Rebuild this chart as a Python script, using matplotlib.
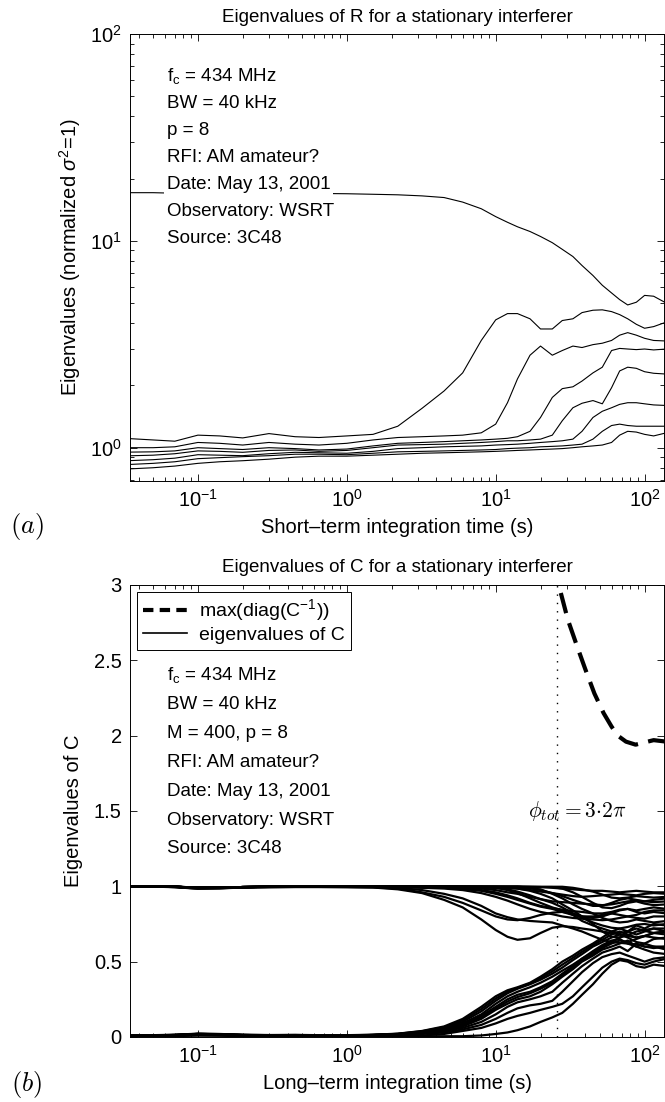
import matplotlib
matplotlib.use("Agg")
import matplotlib.pyplot as plt
from matplotlib.lines import Line2D

plt.rcParams['font.family'] = ['Liberation Sans', 'DejaVu Sans']
plt.rcParams['mathtext.fontset'] = 'custom'
plt.rcParams['mathtext.rm'] = 'Liberation Sans'
plt.rcParams['mathtext.it'] = 'Liberation Sans:italic'
plt.rcParams['mathtext.bf'] = 'Liberation Sans:bold'

# integration times (s), shared by both panels
t = [0.035, 0.05, 0.07, 0.1, 0.14, 0.2, 0.3, 0.45, 0.65, 1, 1.5, 2.2, 3.2, 4.5,
     6, 8, 10, 12, 14, 17, 20, 24, 28, 33, 38, 45, 52, 60, 68, 77, 88, 100,
     115, 140]

# panel (a): eigenvalues of R
r1 = [17.1, 17.1, 17.0, 17.0, 17.0, 17.0, 17.0, 16.95, 16.95, 16.9, 16.8, 16.7,
      16.5, 16.2, 15.4, 14.3, 13.1, 12.3, 11.7, 11.1, 10.5, 9.8, 9.1, 8.4,
      7.6, 6.8, 6.1, 5.6, 5.2, 4.9, 5.05, 5.45, 5.4, 5.0]
r2 = [1.106, 1.09, 1.075, 1.15, 1.14, 1.115, 1.17, 1.13, 1.12, 1.14, 1.16,
      1.27, 1.55, 1.88, 2.3, 3.3, 4.15, 4.45, 4.45, 4.2, 3.75, 3.75, 4.12, 4.2,
      4.5, 4.62, 4.64, 4.55, 4.4, 4.2, 3.95, 3.78, 3.85, 4.05]
r3 = [1.0, 1.0, 1.01, 1.06, 1.05, 1.03, 1.06, 1.04, 1.03, 1.05, 1.09, 1.12,
      1.13, 1.14, 1.15, 1.18, 1.3, 1.65, 2.15, 2.8, 3.1, 2.8, 2.95, 3.1, 3.05,
      3.15, 3.2, 3.3, 3.5, 3.6, 3.5, 3.38, 3.3, 3.28]
r4 = [0.952, 0.955, 0.965, 1.0, 0.99, 0.98, 1.0, 0.99, 0.975, 0.985, 1.02,
      1.05, 1.06, 1.07, 1.08, 1.09, 1.1, 1.11, 1.13, 1.2, 1.4, 1.75, 1.93, 1.97,
      2.1, 2.3, 2.45, 2.95, 3.02, 3.0, 2.98, 3.0, 2.97, 3.0]
r5 = [0.914, 0.92, 0.935, 0.965, 0.96, 0.95, 0.97, 0.975, 0.96, 0.97, 1.0,
      1.03, 1.035, 1.04, 1.05, 1.06, 1.07, 1.08, 1.08, 1.09, 1.1, 1.15, 1.35,
      1.56, 1.64, 1.69, 1.63, 1.95, 2.35, 2.45, 2.42, 2.33, 2.29, 2.27]
r6 = [0.866, 0.875, 0.89, 0.925, 0.92, 0.915, 0.935, 0.95, 0.945, 0.94, 0.96,
      0.99, 1.0, 1.01, 1.015, 1.02, 1.03, 1.035, 1.04, 1.05, 1.06, 1.07, 1.08,
      1.1, 1.2, 1.4, 1.5, 1.56, 1.62, 1.65, 1.65, 1.63, 1.61, 1.6]
r7 = [0.83, 0.84, 0.855, 0.885, 0.895, 0.905, 0.915, 0.93, 0.93, 0.925, 0.94,
      0.955, 0.96, 0.965, 0.97, 0.975, 0.98, 0.99, 0.995, 1.0, 1.01, 1.015,
      1.02, 1.03, 1.04, 1.1, 1.2, 1.28, 1.3, 1.28, 1.27, 1.27, 1.27, 1.27]
r8 = [0.79, 0.8, 0.815, 0.84, 0.855, 0.865, 0.88, 0.9, 0.91, 0.91, 0.92, 0.93,
      0.94, 0.945, 0.95, 0.955, 0.96, 0.965, 0.97, 0.975, 0.98, 0.985, 0.99,
      1.0, 1.01, 1.02, 1.03, 1.06, 1.15, 1.2, 1.19, 1.16, 1.14, 1.18]
eig_R = [r1, r2, r3, r4, r5, r6, r7, r8]

# panel (b): eigenvalues of C, upper group (start near 1)
u1 = [1.0, 1.0, 0.998, 0.99, 0.99, 0.995, 0.997, 0.998, 0.998, 0.998, 0.999,
      0.999, 0.999, 0.999, 0.999, 0.999, 0.999, 0.998, 0.998, 0.997, 0.995,
      0.99, 0.985, 0.98, 0.975, 0.97, 0.97, 0.965, 0.96, 0.965, 0.97, 0.965,
      0.96, 0.96]
u2 = [1.0, 1.0, 0.997, 0.99, 0.99, 0.995, 0.997, 0.998, 0.998, 0.998, 0.999,
      0.999, 0.998, 0.997, 0.996, 0.995, 0.993, 0.99, 0.985, 0.975, 0.965,
      0.955, 0.945, 0.935, 0.93, 0.935, 0.94, 0.945, 0.95, 0.945, 0.94, 0.95,
      0.955, 0.95]
u3 = [1.0, 1.0, 0.997, 0.99, 0.99, 0.995, 0.997, 0.997, 0.997, 0.998, 0.998,
      0.998, 0.995, 0.993, 0.99, 0.985, 0.975, 0.96, 0.95, 0.93, 0.915, 0.9,
      0.895, 0.89, 0.885, 0.88, 0.875, 0.88, 0.89, 0.9, 0.905, 0.9, 0.895, 0.9]
u4 = [1.0, 1.0, 0.997, 0.99, 0.99, 0.995, 0.997, 0.997, 0.997, 0.998, 0.998,
      0.997, 0.993, 0.99, 0.985, 0.975, 0.96, 0.94, 0.92, 0.89, 0.87, 0.855,
      0.845, 0.835, 0.83, 0.82, 0.82, 0.83, 0.845, 0.85, 0.84, 0.85, 0.86, 0.85]
u5 = [1.0, 1.0, 0.997, 0.99, 0.99, 0.994, 0.996, 0.997, 0.997, 0.997, 0.997,
      0.995, 0.99, 0.985, 0.975, 0.955, 0.93, 0.905, 0.88, 0.85, 0.83, 0.815,
      0.8, 0.79, 0.785, 0.78, 0.775, 0.78, 0.79, 0.8, 0.79, 0.785, 0.8, 0.8]
u6 = [1.0, 1.0, 0.997, 0.99, 0.99, 0.995, 0.997, 0.998, 0.998, 0.998, 0.998,
      0.998, 0.997, 0.996, 0.995, 0.993, 0.99, 0.98, 0.965, 0.94, 0.915, 0.89,
      0.86, 0.82, 0.79, 0.76, 0.74, 0.725, 0.72, 0.73, 0.745, 0.75, 0.74, 0.75]
u7 = [1.0, 0.999, 0.995, 0.985, 0.987, 0.993, 0.995, 0.996, 0.996, 0.995,
      0.993, 0.985, 0.96, 0.93, 0.89, 0.84, 0.8, 0.78, 0.775, 0.79, 0.81,
      0.825, 0.83, 0.82, 0.8, 0.79, 0.8, 0.82, 0.84, 0.85, 0.83, 0.82, 0.83,
      0.82]
u8 = [0.999, 0.998, 0.994, 0.984, 0.986, 0.992, 0.994, 0.995, 0.995, 0.994,
      0.992, 0.98, 0.955, 0.91, 0.86, 0.78, 0.71, 0.665, 0.645, 0.655, 0.69,
      0.725, 0.735, 0.73, 0.72, 0.71, 0.7, 0.69, 0.68, 0.67, 0.66, 0.67, 0.69,
      0.7]
u9 = [1.0, 0.999, 0.995, 0.986, 0.988, 0.993, 0.995, 0.996, 0.996, 0.996,
      0.995, 0.99, 0.975, 0.95, 0.92, 0.87, 0.82, 0.795, 0.78, 0.77, 0.765,
      0.76, 0.74, 0.72, 0.7, 0.67, 0.645, 0.63, 0.625, 0.62, 0.615, 0.6, 0.59,
      0.6]
u10 = [1.0, 1.0, 0.997, 0.99, 0.99, 0.995, 0.997, 0.998, 0.998, 0.998, 0.998,
       0.998, 0.997, 0.996, 0.995, 0.994, 0.992, 0.99, 0.985, 0.97, 0.95, 0.92,
       0.88, 0.84, 0.8, 0.75, 0.7, 0.665, 0.66, 0.675, 0.7, 0.71, 0.72, 0.72]
u11 = [1.0, 1.0, 0.998, 0.991, 0.991, 0.995, 0.997, 0.998, 0.998, 0.998,
       0.998, 0.998, 0.998, 0.997, 0.997, 0.997, 0.996, 0.996, 0.996, 0.995,
       0.995, 0.995, 0.985, 0.96, 0.93, 0.89, 0.86, 0.855, 0.87, 0.89, 0.9,
       0.885, 0.875, 0.88]
u12 = [1.0, 1.0, 0.998, 0.991, 0.991, 0.995, 0.997, 0.998, 0.998, 0.998,
       0.998, 0.998, 0.998, 0.998, 0.998, 0.998, 0.998, 0.998, 0.998, 0.997,
       0.997, 0.997, 0.997, 0.99, 0.98, 0.965, 0.945, 0.925, 0.92, 0.925,
       0.935, 0.93, 0.925, 0.93]
u13 = [1.0, 1.0, 0.997, 0.99, 0.99, 0.995, 0.997, 0.998, 0.998, 0.998, 0.998,
       0.998, 0.998, 0.997, 0.997, 0.996, 0.995, 0.993, 0.99, 0.985, 0.98,
       0.95, 0.92, 0.88, 0.85, 0.82, 0.79, 0.77, 0.76, 0.765, 0.78, 0.77, 0.76,
       0.77]
u14 = [1.0, 1.0, 0.997, 0.99, 0.99, 0.995, 0.997, 0.998, 0.998, 0.998, 0.998,
       0.998, 0.997, 0.997, 0.996, 0.995, 0.99, 0.975, 0.955, 0.92, 0.89, 0.86,
       0.84, 0.81, 0.77, 0.74, 0.72, 0.7, 0.69, 0.7, 0.72, 0.705, 0.69, 0.7]
u15 = [1.0, 1.0, 0.997, 0.99, 0.99, 0.995, 0.997, 0.998, 0.998, 0.998, 0.998,
       0.997, 0.994, 0.99, 0.982, 0.97, 0.95, 0.93, 0.91, 0.885, 0.865, 0.85,
       0.83, 0.81, 0.8, 0.8, 0.81, 0.82, 0.81, 0.8, 0.81, 0.83, 0.84, 0.84]
u16 = [1.0, 1.0, 0.997, 0.99, 0.99, 0.995, 0.997, 0.998, 0.998, 0.998, 0.998,
       0.998, 0.998, 0.998, 0.998, 0.998, 0.998, 0.998, 0.998, 0.99, 0.975,
       0.955, 0.935, 0.91, 0.89, 0.87, 0.87, 0.89, 0.91, 0.92, 0.91, 0.9,
       0.91, 0.92]

# lower group (start near 0)
l1 = [0.01, 0.012, 0.015, 0.022, 0.02, 0.015, 0.013, 0.014, 0.012, 0.012,
      0.015, 0.022, 0.04, 0.07, 0.12, 0.2, 0.27, 0.31, 0.33, 0.36, 0.4, 0.45,
      0.5, 0.54, 0.58, 0.62, 0.66, 0.7, 0.72, 0.7, 0.68, 0.7, 0.72, 0.7]
l2 = [0.009, 0.011, 0.014, 0.021, 0.019, 0.014, 0.012, 0.013, 0.011, 0.011,
      0.014, 0.02, 0.035, 0.06, 0.1, 0.17, 0.24, 0.29, 0.32, 0.35, 0.38, 0.42,
      0.46, 0.51, 0.55, 0.6, 0.63, 0.66, 0.68, 0.66, 0.63, 0.62, 0.65, 0.66]
l3 = [0.008, 0.01, 0.013, 0.02, 0.018, 0.013, 0.011, 0.012, 0.01, 0.01, 0.013,
      0.019, 0.03, 0.05, 0.09, 0.15, 0.22, 0.27, 0.3, 0.33, 0.36, 0.4, 0.44,
      0.48, 0.52, 0.57, 0.61, 0.64, 0.65, 0.62, 0.6, 0.62, 0.6, 0.58]
l4 = [0.008, 0.01, 0.012, 0.019, 0.017, 0.012, 0.011, 0.012, 0.01, 0.01,
      0.013, 0.018, 0.03, 0.05, 0.08, 0.14, 0.2, 0.25, 0.28, 0.3, 0.33, 0.37,
      0.42, 0.47, 0.52, 0.56, 0.6, 0.63, 0.66, 0.7, 0.74, 0.72, 0.75, 0.74]
l5 = [0.007, 0.009, 0.012, 0.018, 0.016, 0.012, 0.01, 0.011, 0.01, 0.01,
      0.012, 0.017, 0.025, 0.04, 0.07, 0.12, 0.18, 0.22, 0.25, 0.27, 0.3, 0.35,
      0.4, 0.45, 0.5, 0.54, 0.58, 0.6, 0.62, 0.64, 0.6, 0.58, 0.56, 0.55]
l6 = [0.007, 0.009, 0.011, 0.017, 0.015, 0.011, 0.01, 0.011, 0.009, 0.009,
      0.011, 0.016, 0.025, 0.04, 0.06, 0.1, 0.15, 0.2, 0.23, 0.25, 0.27, 0.3,
      0.36, 0.42, 0.47, 0.52, 0.56, 0.58, 0.6, 0.57, 0.62, 0.6, 0.6, 0.6]
l7 = [0.006, 0.008, 0.01, 0.016, 0.014, 0.01, 0.009, 0.01, 0.008, 0.008,
      0.01, 0.014, 0.02, 0.03, 0.05, 0.08, 0.12, 0.16, 0.19, 0.21, 0.22, 0.24,
      0.3, 0.37, 0.43, 0.49, 0.53, 0.55, 0.56, 0.54, 0.52, 0.5, 0.52, 0.53]
l8 = [0.005, 0.006, 0.008, 0.012, 0.011, 0.008, 0.007, 0.008, 0.007, 0.007,
      0.008, 0.009, 0.01, 0.02, 0.04, 0.06, 0.09, 0.12, 0.14, 0.16, 0.18, 0.2,
      0.22, 0.27, 0.33, 0.4, 0.46, 0.5, 0.52, 0.51, 0.49, 0.48, 0.5, 0.52]
l9 = [0.004, 0.005, 0.006, 0.009, 0.008, 0.006, 0.005, 0.006, 0.005, 0.005,
      0.005, 0.005, 0.005, 0.005, 0.005, 0.01, 0.02, 0.03, 0.045, 0.07, 0.1,
      0.13, 0.16, 0.22, 0.28, 0.35, 0.42, 0.48, 0.51, 0.5, 0.47, 0.46, 0.48,
      0.47]
l10 = [0.008, 0.01, 0.013, 0.02, 0.018, 0.013, 0.011, 0.012, 0.01, 0.01,
       0.013, 0.021, 0.038, 0.065, 0.11, 0.185, 0.255, 0.3, 0.325, 0.355,
       0.39, 0.435, 0.48, 0.525, 0.565, 0.61, 0.645, 0.68, 0.7, 0.68, 0.66,
       0.67, 0.69, 0.68]
l11 = [0.008, 0.01, 0.013, 0.02, 0.018, 0.013, 0.011, 0.012, 0.01, 0.01,
       0.013, 0.018, 0.028, 0.045, 0.075, 0.13, 0.19, 0.235, 0.265, 0.29,
       0.32, 0.36, 0.41, 0.46, 0.51, 0.55, 0.59, 0.62, 0.64, 0.63, 0.65,
       0.67, 0.66, 0.65]
eig_C = [u1, u2, u3, u4, u5, u6, u7, u8, u9, u10, u11, u12, u13, u14, u15,
         u16, l1, l2, l3, l4, l5, l6, l7, l8, l9, l10, l11]

# max(diag(C^-1))
t_diag = [25, 26.5, 30.5, 35, 40, 46, 53, 60, 66, 75, 87, 100, 115, 140]
max_diag = [3.15, 3.0, 2.77, 2.6, 2.44, 2.28, 2.15, 2.06, 2.0, 1.96, 1.94,
            1.955, 1.97, 1.96]
t_phase = 26.0

info_a = [r'f$_{\rm c}$ = 434 MHz', 'BW = 40 kHz', 'p = 8', 'RFI: AM amateur?',
          'Date: May 13, 2001', 'Observatory: WSRT', 'Source: 3C48']
info_b = [r'f$_{\rm c}$ = 434 MHz', 'BW = 40 kHz', 'M = 400, p = 8',
          'RFI: AM amateur?', 'Date: May 13, 2001', 'Observatory: WSRT',
          'Source: 3C48']

fs = 13.5
fig = plt.figure(figsize=(6.65, 11.02), dpi=100)
ax1 = fig.add_axes([0.1955, 0.5635, 0.803, 0.4056])
ax2 = fig.add_axes([0.1955, 0.0590, 0.803, 0.4102])

for ax in (ax1, ax2):
    ax.set_xscale('log')
    ax.set_xlim(0.035, 135)
    ax.tick_params(which='both', direction='in', top=True, right=True,
                   labelsize=fs + 1, width=0.6)
    ax.tick_params(which='major', length=5, pad=6)
    ax.tick_params(which='minor', length=3)
    for s in ax.spines.values():
        s.set_linewidth(0.7)

# (a)
for y in eig_R:
    ax1.plot(t, y, color='black', lw=0.8)
ax1.set_yscale('log')
ax1.set_ylim(0.69, 100)
ax1.set_title('Eigenvalues of R for a stationary interferer', fontsize=fs, pad=9)
ax1.set_xlabel('Short\u2013term integration time (s)', fontsize=fs + 1, labelpad=5)
ax1.set_ylabel(r'Eigenvalues (normalized $\sigma^2$=1)', fontsize=fs + 1)
ax1.yaxis.set_label_coords(-0.088, 0.5)
for i, s in enumerate(info_a):
    ax1.text(0.069, 0.906 - i * 0.0606, s, transform=ax1.transAxes,
             fontsize=fs, va='center', ha='left',
             bbox=dict(facecolor='white', edgecolor='none', pad=2))

# (b)
for y in eig_C:
    ax2.plot(t, y, color='black', lw=1.6)
ax2.plot(t_diag, max_diag, color='black', lw=3, linestyle=(0, (5, 2.5)))
ax2.axvline(t_phase, color='black', lw=1, linestyle=(0, (1, 5)))
ax2.set_ylim(0, 3)
ax2.set_yticks([0, 0.5, 1, 1.5, 2, 2.5, 3])
ax2.set_yticklabels(['0', '0.5', '1', '1.5', '2', '2.5', '3'])
ax2.set_title('Eigenvalues of C for a stationary interferer', fontsize=fs, pad=9)
ax2.set_xlabel('Long\u2013term integration time (s)', fontsize=fs + 1, labelpad=5)
ax2.set_ylabel('Eigenvalues of C', fontsize=fs + 1)
ax2.yaxis.set_label_coords(-0.088, 0.5)
for i, s in enumerate(info_b):
    ax2.text(0.069, 2.40 - i * 0.192, s, transform=ax2.get_yaxis_transform(),
             fontsize=fs, va='center', ha='left')
ax2.text(16.5, 1.5, r'$\phi_{tot} = 3{\cdot}2\pi$', fontsize=fs + 2,
         va='center', ha='left', math_fontfamily='cm')

handles = [Line2D([], [], color='black', lw=3, linestyle=(0, (2.5, 1.5))),
           Line2D([], [], color='black', lw=1.2)]
leg = ax2.legend(handles, [r'max(diag(C$^{-1}$))', 'eigenvalues of C'],
                 loc='upper left', fontsize=fs + 0.5, fancybox=False,
                 framealpha=1, edgecolor='black', borderaxespad=0.35,
                 handlelength=2.3, handletextpad=0.6, borderpad=0.3,
                 labelspacing=0.15)
leg.get_frame().set_linewidth(0.7)

fig.text(27 / 665, 1 - 527 / 1102, '$(a)$', fontsize=19, ha='center',
         va='center', math_fontfamily='cm')
fig.text(27 / 665, 1 - 1085 / 1102, '$(b)$', fontsize=19, ha='center',
         va='center', math_fontfamily='cm')

fig.savefig('out.png', dpi=100)
